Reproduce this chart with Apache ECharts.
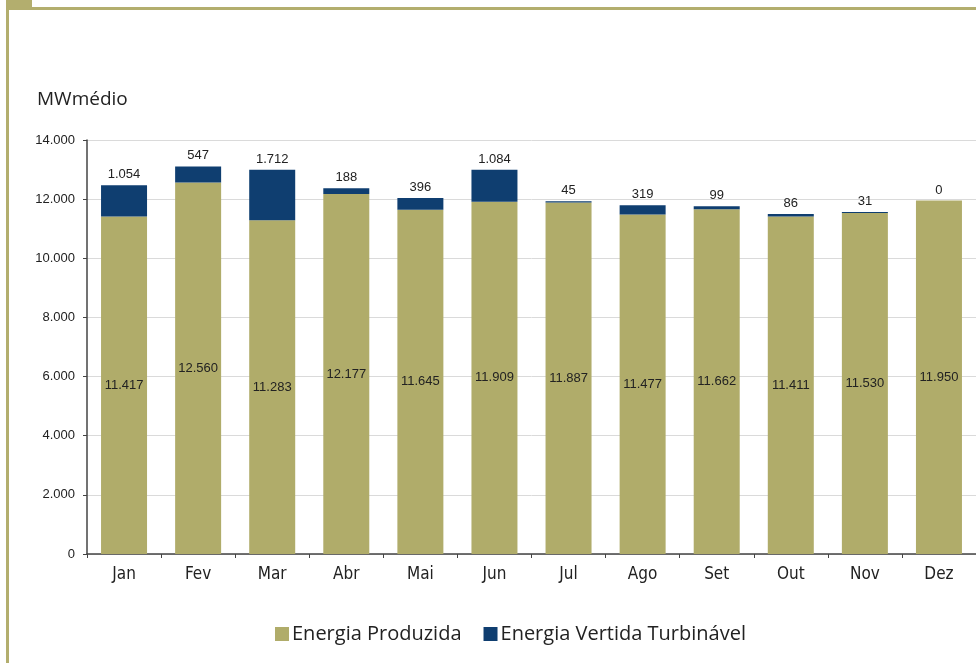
<!DOCTYPE html>
<html>
<head>
<meta charset="utf-8">
<script src="https://cdn.jsdelivr.net/npm/echarts@6/dist/echarts.min.js"></script>
<style>
  html, body { margin: 0; padding: 0; background: #fff; }
  #chart { width: 976px; height: 663px; }
</style>
</head>
<body>
<div id="chart"></div>
<script>
const months = ['Jan', 'Fev', 'Mar', 'Abr', 'Mai', 'Jun', 'Jul', 'Ago', 'Set', 'Out', 'Nov', 'Dez'];
const produzida = [11417, 12560, 11283, 12177, 11645, 11909, 11887, 11477, 11662, 11411, 11530, 11950];
const vertida = [1054, 547, 1712, 188, 396, 1084, 45, 319, 99, 86, 31, 0];
const yTicks = [0, 2000, 4000, 6000, 8000, 10000, 12000, 14000];

const olive = '#b0ac6a';
const navy = '#0f3e70';
const frame = '#b3ae6e';

// 11417 -> "11.417"
function fmt(v) {
  return String(v).replace(/\B(?=(\d{3})+(?!\d))/g, '.');
}

const myChart = echarts.init(document.getElementById('chart'));

const option = {
  animation: false,
  backgroundColor: '#fff',
  grid: { left: 87, right: 0, top: 140, bottom: 109 },
  legend: {
    left: 270,
    top: 619,
    itemWidth: 14,
    itemHeight: 14,
    itemGap: 22,
    icon: 'rect',
    textStyle: { fontFamily: 'Open Sans', fontSize: 20, color: '#222', padding: [0, 0, 0, -2] },
    data: ['Energia Produzida', 'Energia Vertida Turbinável']
  },
  graphic: [
    { type: 'rect', shape: { x: 6, y: 0, width: 26, height: 8 }, style: { fill: frame } },
    { type: 'rect', shape: { x: 6, y: 7, width: 970, height: 3 }, style: { fill: frame } },
    { type: 'rect', shape: { x: 6, y: 7, width: 3, height: 656 }, style: { fill: frame } },
    {
      type: 'text', left: 37, top: 90,
      style: { text: 'MWmédio', fontFamily: 'Open Sans', fontSize: 19, fill: '#222' }
    }
  ],
  xAxis: {
    type: 'category',
    data: months,
    axisLine: { lineStyle: { color: '#444', width: 1.5 } },
    axisTick: { show: true, length: 4, lineStyle: { color: '#444' } },
    axisLabel: {
      margin: 12,
      fontFamily: "'Liberation Sans Narrow', 'DejaVu Sans Condensed', Roboto, sans-serif",
      fontSize: 17,
      color: '#222'
    }
  },
  yAxis: {
    type: 'value',
    min: yTicks[0],
    max: yTicks[yTicks.length - 1],
    interval: 2000,
    axisLine: { show: true, lineStyle: { color: '#444', width: 1.5 } },
    axisTick: { show: true, length: 4, lineStyle: { color: '#444' } },
    axisLabel: {
      margin: 12,
      fontFamily: 'Liberation Sans',
      fontSize: 13,
      color: '#222',
      formatter: v => fmt(v)
    },
    splitLine: { lineStyle: { color: '#dadada', width: 1 } }
  },
  series: [
    {
      name: 'Energia Produzida',
      type: 'bar',
      stack: 'total',
      barWidth: 46,
      itemStyle: { color: olive },
      label: {
        show: true,
        position: 'inside',
        fontFamily: 'Liberation Sans',
        fontSize: 13,
        color: '#222',
        formatter: p => fmt(p.value)
      },
      data: produzida
    },
    {
      name: 'Energia Vertida Turbinável',
      type: 'bar',
      stack: 'total',
      barWidth: 46,
      itemStyle: { color: navy },
      label: {
        show: true,
        position: 'top',
        distance: 4,
        fontFamily: 'Liberation Sans',
        fontSize: 13,
        color: '#222',
        formatter: p => fmt(p.value)
      },
      data: vertida
    }
  ]
};

myChart.setOption(option);
</script>
</body>
</html>
